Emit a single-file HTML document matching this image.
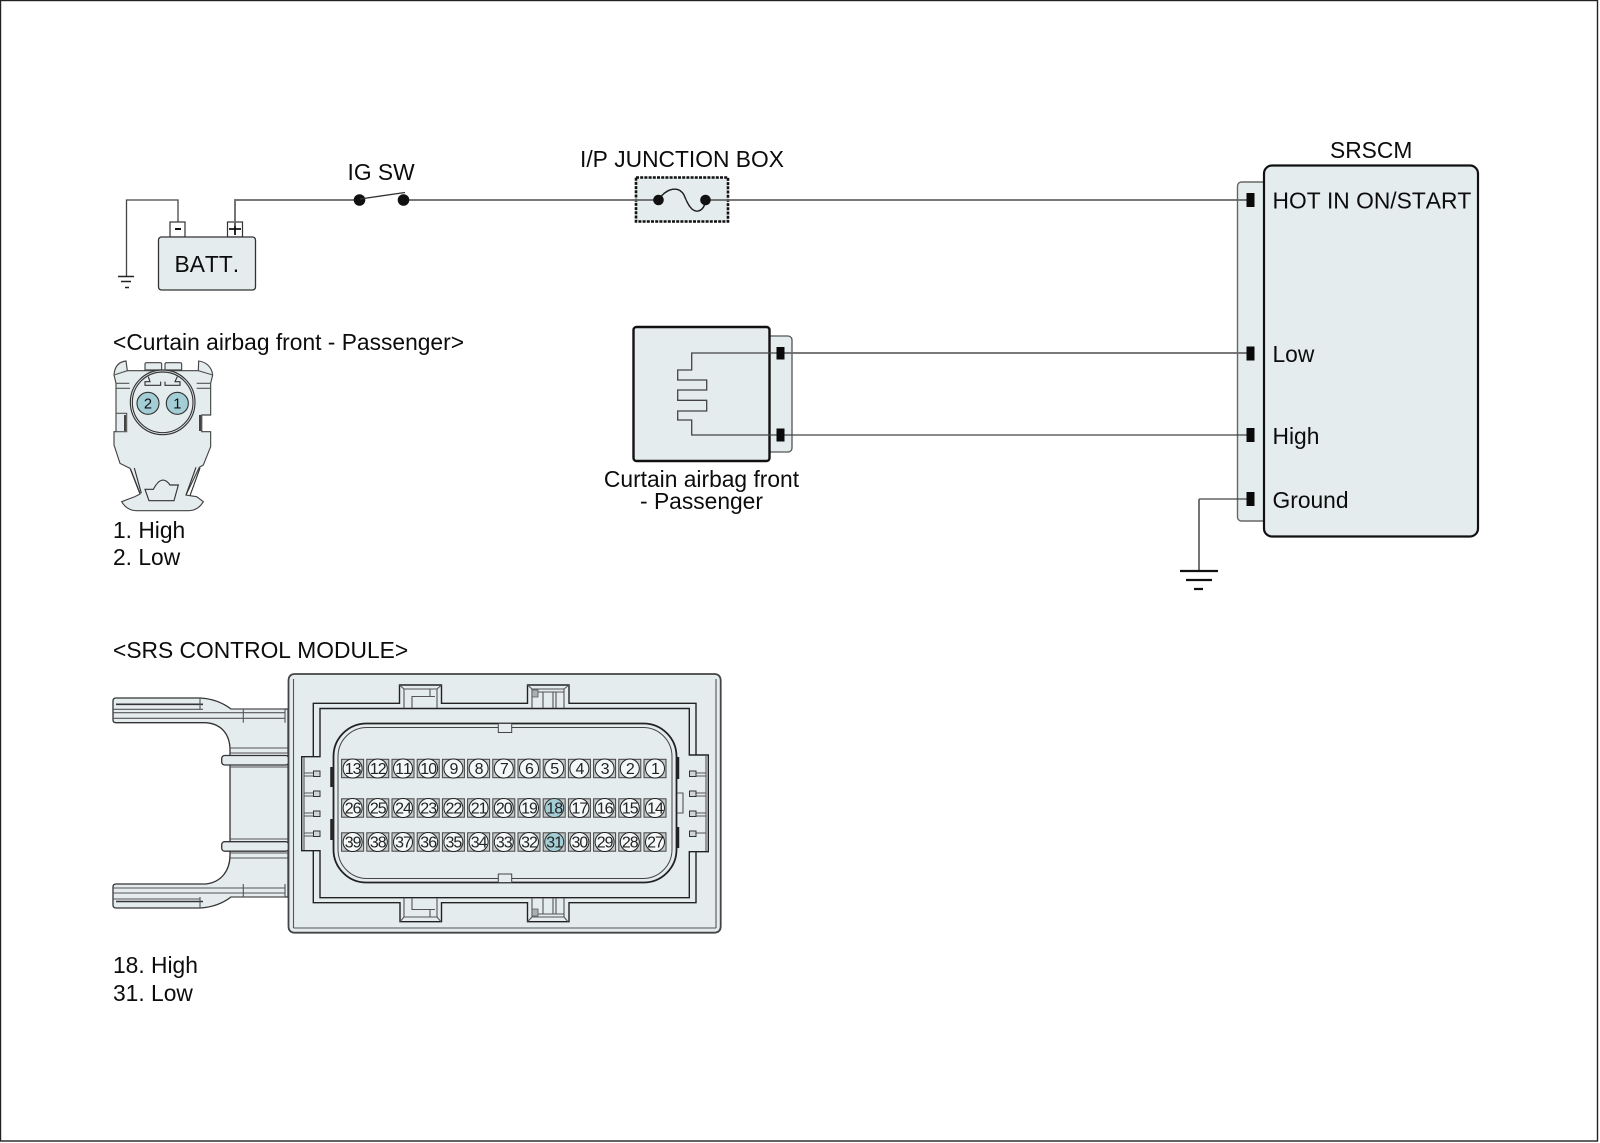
<!DOCTYPE html>
<html><head><meta charset="utf-8"><style>
html,body{margin:0;padding:0;background:#fff}
svg{display:block}
text{font-family:"Liberation Sans",sans-serif;font-size:22.8px;fill:#0c0c0c;font-kerning:none}
.f{fill:#e5ecee}
.k{fill:none;stroke:#222;stroke-width:1.4}
.g{fill:none;stroke:#555;stroke-width:1.1}
.w{fill:none;stroke:#666;stroke-width:1.8}
.t{fill:none;stroke:#444;stroke-width:1.3}
.c{fill:#c6cacb;stroke:#444;stroke-width:1}
.o{fill:#f5f8f8;stroke:#222;stroke-width:1}
.h{fill:#a3ced6;stroke:#333;stroke-width:1}
.n{font-size:16px;text-anchor:middle;letter-spacing:-1px;fill:#222;transform:translateY(.5px)}
</style></head><body>
<svg width="1600" height="1143" viewBox="0 0 1600 1143" xmlns="http://www.w3.org/2000/svg">
<rect x="0.5" y="0.5" width="1597" height="1140.5" fill="#fff" stroke="#222" stroke-width="1.4"/>

<!-- Battery -->
<path class="t" d="M178 222V200H126.5V276"/>
<path class="k" d="M118 276.5H134M121 281.5H131M125 287.5H129"/>
<rect x="170" y="222" width="15" height="15" fill="#fff" stroke="#333" stroke-width="1.2"/>
<rect x="227.5" y="222" width="15" height="15" fill="#fff" stroke="#333" stroke-width="1.2"/>
<path d="M175 229H181" stroke="#111" stroke-width="2"/>
<path d="M229 229H241M235 223V235" stroke="#111" stroke-width="1.8"/>
<rect x="158.5" y="237" width="97" height="53" rx="3" class="f" stroke="#333" stroke-width="1.3"/>
<text x="174.5" y="272">BATT.</text>

<!-- Switch -->
<text x="347.5" y="180">IG SW</text>

<!-- Fuse -->
<text x="580" y="167">I/P JUNCTION BOX</text>
<rect x="636" y="177.5" width="92" height="44" class="f" stroke="#111" stroke-width="2.6" stroke-dasharray="3 1.2"/>

<!-- Curtain airbag module -->
<rect x="760" y="336" width="32" height="116" rx="4" class="f" stroke="#555" stroke-width="1.3"/>
<rect x="633.5" y="327" width="136" height="134" rx="3" class="f" stroke="#111" stroke-width="2.4"/>
<path class="t" d="M776 353H691.7V370H677.7V380H706.7V390H677.7V400.3H706.7V411H677.7V420H691.7V435H776"/>
<text x="701.5" y="487" text-anchor="middle">Curtain airbag front</text>
<text x="701.5" y="509" text-anchor="middle">- Passenger</text>

<!-- SRSCM -->
<text x="1330" y="158">SRSCM</text>
<rect x="1237.5" y="182" width="40" height="339" rx="4" class="f" stroke="#666" stroke-width="1.4"/>
<rect x="1264" y="165.5" width="214" height="371" rx="8" class="f" stroke="#111" stroke-width="2.2"/>
<text x="1272.5" y="208.5">HOT IN ON/START</text>
<text x="1272.5" y="362">Low</text>
<text x="1272.5" y="444">High</text>
<text x="1272.5" y="508">Ground</text>

<!-- Wires -->
<path class="w" d="M235 226V200H360M404 200H1248"/>
<circle cx="359.5" cy="200" r="5.8" fill="#111"/>
<circle cx="403.5" cy="200" r="5.8" fill="#111"/>
<path d="M360 199L405 192.5" stroke="#333" stroke-width="1.3"/>
<path d="M658.5 200C664 190 678 184 684 195C688 205 692 212 698 211C703 210 705 205 705.5 200" fill="none" stroke="#222" stroke-width="1.3"/>
<rect x="659" y="199" width="46" height="2" fill="#e5ecee"/>
<path d="M658.5 200C664 190 678 184 684 195C688 205 692 212 698 211C703 210 705 205 705.5 200" fill="none" stroke="#222" stroke-width="1.3"/>
<circle cx="658.5" cy="200" r="5.3" fill="#111"/>
<circle cx="705.5" cy="200" r="5.3" fill="#111"/>
<path class="w" d="M776 353H1248"/>
<path class="t" d="M776 435H1248"/>
<path class="t" d="M1248 499H1199"/>
<path class="w" d="M1199 499V571"/>
<path d="M1180 571H1218M1186 580H1212M1194 589H1203" stroke="#111" stroke-width="2.2"/>
<rect x="776.5" y="347" width="8" height="12.5" fill="#0a0a0a"/>
<rect x="776.5" y="428.5" width="8" height="13" fill="#0a0a0a"/>
<rect x="1246.5" y="193" width="8" height="14" fill="#0a0a0a"/>
<rect x="1246.5" y="346.5" width="8" height="14" fill="#0a0a0a"/>
<rect x="1246.5" y="428" width="8" height="14" fill="#0a0a0a"/>
<rect x="1246.5" y="492" width="8" height="14" fill="#0a0a0a"/>

<!-- Left labels -->
<text x="113" y="350">&lt;Curtain airbag front - Passenger&gt;</text>
<text x="113" y="538">1. High</text>
<text x="113" y="565">2. Low</text>
<text x="113" y="658">&lt;SRS CONTROL MODULE&gt;</text>
<text x="113" y="973">18. High</text>
<text x="113" y="1001">31. Low</text>

<!-- Curtain connector -->
<g transform="translate(100 330) scale(.33333)">
<path class="f" stroke="#444" stroke-width="3.4" d="M42 135C44 108 58 95 78 93L82 122H295L296 93C318 96 335 110 338 135L332 160V255H305V305H332V350L310 405L298 412L258 495L290 500L310 515C300 532 285 542 265 542H110C90 542 75 532 65 515L105 500L120 492L90 415L60 400L42 345V305H48V255H48V160L42 135Z"/>
<path fill="none" stroke="#555" stroke-width="3.4" d="M82 122L42 135M295 122L338 135M48 160H88M48 175H90M48 250H80V305H48M332 160H290M332 175H290M305 255V305"/>
<path stroke="#444" fill="none" stroke-width="6" d="M75 255V303M300 255V303"/>
<path class="f" stroke="#444" stroke-width="3.4" d="M135 120V102Q135 98 140 98H180Q185 98 185 102V120ZM195 120V102Q195 98 200 98H240Q245 98 245 102V120Z"/>
<circle cx="188" cy="217" r="97" class="f" stroke="#333" stroke-width="3.4"/>
<circle cx="188" cy="217" r="91" class="f" stroke="#333" stroke-width="3.4"/>
<path fill="none" stroke="#333" stroke-width="3.4" d="M145 140L150 155H135V166H182V155M232 140L225 155H240V166H195V155"/>
<circle cx="144" cy="220" r="33" fill="#a3ced6" stroke="#333" stroke-width="3.4"/>
<circle cx="232" cy="220" r="33" fill="#a3ced6" stroke="#333" stroke-width="3.4"/>
<text x="144" y="236" text-anchor="middle" style="font-size:44px">2</text>
<text x="232" y="236" text-anchor="middle" style="font-size:44px">1</text>
<path fill="none" stroke="#333" stroke-width="3.4" d="M135 478H160Q185 430 210 465H235L222 512H147ZM92 418L120 490M103 414L124 490M288 412L258 495M300 414L270 497"/>
</g>

<!-- SRS control module bracket -->
<path class="f" stroke="#333" stroke-width="1.3" d="M116 698H200Q218 699 231 709H288V897H231Q218 907 200 908H116Q113 908 113 905V887Q113 884 116 884H206C222 882 230 870 230 855V750C230 735 222 724 206 722.7H116Q113 722.7 113 720V701Q113 698 116 698Z"/>
<path fill="none" stroke="#333" stroke-width="1.6" d="M116 704.3H203M116 901.5H203"/>
<path class="g" d="M113 709.3H203M113 712.7H285M113 718.3H285M243.3 709V722.7M243.3 884V897M113 888H285M113 893H285M113 899H200M230 709H285M230 897H285M200 698V709M200 897V908M285 709V722.7M285 884V897"/>
<path class="g" d="M230 748H288M230 767H288M230 753H288M230 839H288M230 853H288M230 858H288"/>
<rect x="221.7" y="755.5" width="67" height="9.5" rx="3" class="f" stroke="#333" stroke-width="1.3"/>
<rect x="221.7" y="841.7" width="67" height="9.5" rx="3" class="f" stroke="#333" stroke-width="1.3"/>

<!-- SRS control module body -->
<path class="f" stroke="#444" stroke-width="1.8" d="M295 674H714Q720.7 674 720.7 681V926Q720.7 932.7 714 932.7H295Q288.5 932.7 288.5 926V681Q288.5 674 295 674Z"/>
<path class="g" d="M293.5 679V928M716 679V928M293.5 928H716"/>
<path class="k" d="M313.3 756.7V703.3H399.5V685H441.5V703.3H527.5V685H569V703.3H696V755M696 851.7V902.7H569V921.7H527.5V902.7H441.5V921.7H400V902.7H313.3V850.7"/>
<path class="k" d="M320 756.7V708.5H689.3V755H708.3V851.7H689.3V897.7H320V850.7H301.7V756.7Z"/>
<path class="g" d="M304 757V850M706 755V851"/>
<path class="g" d="M404 708V689H437V708M399.5 685L404 689M441.5 685L437 689M412 708V696.5H435M430 689V696.5"/>
<path class="g" d="M532 708V689H564V708M527.5 685L532 689M569 685L564 689M538 692H564M543 692V708M553 692V708M556 692V708"/>
<path d="M532 690H538V697H532Z" fill="#aab0b1" stroke="#555" stroke-width=".8"/>
<path class="g" d="M404 898V917H437V898M400 921.7L404 917M441 921.7L437 917M412 898V909.5H435M430 917V909.5"/>
<path class="g" d="M532 898V917H564V898M527.5 921.7L532 917M568 921.7L564 917M538 914H564M543 898V914M553 898V914M556 898V914"/>
<path d="M532 909H538V916H532Z" fill="#aab0b1" stroke="#555" stroke-width=".8"/>
<path class="g" d="M304 773H313M304 776H313M304 793H313M304 796H313M304 813H313M304 816H313M304 833H313M304 836H313M696 773H706M696 776H706M696 793H706M696 796H706M696 813H706M696 816H706M696 833H706"/>
<path d="M313.5 771H320V776.5H313.5ZM313.5 791H320V796.5H313.5ZM313.5 811H320V816.5H313.5ZM313.5 831H320V836.5H313.5ZM689.5 771H696V776.5H689.5ZM689.5 791H696V796.5H689.5ZM689.5 811H696V816.5H689.5ZM689.5 831H696V836.5H689.5Z" fill="#cfd5d6" stroke="#333"/>
<rect x="333.5" y="723.5" width="343" height="159" rx="33" fill="#e5ecee" stroke="#222" stroke-width="1.8"/>
<rect x="338" y="727.5" width="334" height="151" rx="29" fill="#e5ecee" stroke="#444" stroke-width="1"/>
<path d="M331.5 767V787M331.5 819V840M678 757V779M678 827V848" stroke="#222" stroke-width="2.5"/>
<path class="g" d="M677 793H683V813H677"/>
<rect x="498.3" y="723.5" width="13.4" height="9" class="f" stroke="#444"/>
<rect x="498.3" y="874" width="13.4" height="8.5" class="f" stroke="#444"/>

<!-- Pins -->
<g id="pins">
<rect class="c" x="341.6" y="759.3" width="22" height="18.4"/><circle class="o" cx="352.6" cy="768.5" r="9.5"/><text class="n" x="352.6" y="773.7">13</text>
<rect class="c" x="366.8" y="759.3" width="22" height="18.4"/><circle class="o" cx="377.8" cy="768.5" r="9.5"/><text class="n" x="377.8" y="773.7">12</text>
<rect class="c" x="392" y="759.3" width="22" height="18.4"/><circle class="o" cx="403" cy="768.5" r="9.5"/><text class="n" x="403" y="773.7">11</text>
<rect class="c" x="417.2" y="759.3" width="22" height="18.4"/><circle class="o" cx="428.2" cy="768.5" r="9.5"/><text class="n" x="428.2" y="773.7">10</text>
<rect class="c" x="442.4" y="759.3" width="22" height="18.4"/><circle class="o" cx="453.4" cy="768.5" r="9.5"/><text class="n" x="453.4" y="773.7">9</text>
<rect class="c" x="467.6" y="759.3" width="22" height="18.4"/><circle class="o" cx="478.6" cy="768.5" r="9.5"/><text class="n" x="478.6" y="773.7">8</text>
<rect class="c" x="492.8" y="759.3" width="22" height="18.4"/><circle class="o" cx="503.8" cy="768.5" r="9.5"/><text class="n" x="503.8" y="773.7">7</text>
<rect class="c" x="518" y="759.3" width="22" height="18.4"/><circle class="o" cx="529" cy="768.5" r="9.5"/><text class="n" x="529" y="773.7">6</text>
<rect class="c" x="543.2" y="759.3" width="22" height="18.4"/><circle class="o" cx="554.2" cy="768.5" r="9.5"/><text class="n" x="554.2" y="773.7">5</text>
<rect class="c" x="568.4" y="759.3" width="22" height="18.4"/><circle class="o" cx="579.4" cy="768.5" r="9.5"/><text class="n" x="579.4" y="773.7">4</text>
<rect class="c" x="593.6" y="759.3" width="22" height="18.4"/><circle class="o" cx="604.6" cy="768.5" r="9.5"/><text class="n" x="604.6" y="773.7">3</text>
<rect class="c" x="618.8" y="759.3" width="22" height="18.4"/><circle class="o" cx="629.8" cy="768.5" r="9.5"/><text class="n" x="629.8" y="773.7">2</text>
<rect class="c" x="644" y="759.3" width="22" height="18.4"/><circle class="o" cx="655" cy="768.5" r="9.5"/><text class="n" x="655" y="773.7">1</text>

<rect class="c" x="341.6" y="798.8" width="22" height="18.4"/><circle class="o" cx="352.6" cy="808" r="9.5"/><text class="n" x="352.6" y="813.2">26</text>
<rect class="c" x="366.8" y="798.8" width="22" height="18.4"/><circle class="o" cx="377.8" cy="808" r="9.5"/><text class="n" x="377.8" y="813.2">25</text>
<rect class="c" x="392" y="798.8" width="22" height="18.4"/><circle class="o" cx="403" cy="808" r="9.5"/><text class="n" x="403" y="813.2">24</text>
<rect class="c" x="417.2" y="798.8" width="22" height="18.4"/><circle class="o" cx="428.2" cy="808" r="9.5"/><text class="n" x="428.2" y="813.2">23</text>
<rect class="c" x="442.4" y="798.8" width="22" height="18.4"/><circle class="o" cx="453.4" cy="808" r="9.5"/><text class="n" x="453.4" y="813.2">22</text>
<rect class="c" x="467.6" y="798.8" width="22" height="18.4"/><circle class="o" cx="478.6" cy="808" r="9.5"/><text class="n" x="478.6" y="813.2">21</text>
<rect class="c" x="492.8" y="798.8" width="22" height="18.4"/><circle class="o" cx="503.8" cy="808" r="9.5"/><text class="n" x="503.8" y="813.2">20</text>
<rect class="c" x="518" y="798.8" width="22" height="18.4"/><circle class="o" cx="529" cy="808" r="9.5"/><text class="n" x="529" y="813.2">19</text>
<rect class="c" x="543.2" y="798.8" width="22" height="18.4"/><circle class="h" cx="554.2" cy="808" r="9.5"/><text class="n" x="554.2" y="813.2">18</text>
<rect class="c" x="568.4" y="798.8" width="22" height="18.4"/><circle class="o" cx="579.4" cy="808" r="9.5"/><text class="n" x="579.4" y="813.2">17</text>
<rect class="c" x="593.6" y="798.8" width="22" height="18.4"/><circle class="o" cx="604.6" cy="808" r="9.5"/><text class="n" x="604.6" y="813.2">16</text>
<rect class="c" x="618.8" y="798.8" width="22" height="18.4"/><circle class="o" cx="629.8" cy="808" r="9.5"/><text class="n" x="629.8" y="813.2">15</text>
<rect class="c" x="644" y="798.8" width="22" height="18.4"/><circle class="o" cx="655" cy="808" r="9.5"/><text class="n" x="655" y="813.2">14</text>

<rect class="c" x="341.6" y="832.8" width="22" height="18.4"/><circle class="o" cx="352.6" cy="842" r="9.5"/><text class="n" x="352.6" y="847.2">39</text>
<rect class="c" x="366.8" y="832.8" width="22" height="18.4"/><circle class="o" cx="377.8" cy="842" r="9.5"/><text class="n" x="377.8" y="847.2">38</text>
<rect class="c" x="392" y="832.8" width="22" height="18.4"/><circle class="o" cx="403" cy="842" r="9.5"/><text class="n" x="403" y="847.2">37</text>
<rect class="c" x="417.2" y="832.8" width="22" height="18.4"/><circle class="o" cx="428.2" cy="842" r="9.5"/><text class="n" x="428.2" y="847.2">36</text>
<rect class="c" x="442.4" y="832.8" width="22" height="18.4"/><circle class="o" cx="453.4" cy="842" r="9.5"/><text class="n" x="453.4" y="847.2">35</text>
<rect class="c" x="467.6" y="832.8" width="22" height="18.4"/><circle class="o" cx="478.6" cy="842" r="9.5"/><text class="n" x="478.6" y="847.2">34</text>
<rect class="c" x="492.8" y="832.8" width="22" height="18.4"/><circle class="o" cx="503.8" cy="842" r="9.5"/><text class="n" x="503.8" y="847.2">33</text>
<rect class="c" x="518" y="832.8" width="22" height="18.4"/><circle class="o" cx="529" cy="842" r="9.5"/><text class="n" x="529" y="847.2">32</text>
<rect class="c" x="543.2" y="832.8" width="22" height="18.4"/><circle class="h" cx="554.2" cy="842" r="9.5"/><text class="n" x="554.2" y="847.2">31</text>
<rect class="c" x="568.4" y="832.8" width="22" height="18.4"/><circle class="o" cx="579.4" cy="842" r="9.5"/><text class="n" x="579.4" y="847.2">30</text>
<rect class="c" x="593.6" y="832.8" width="22" height="18.4"/><circle class="o" cx="604.6" cy="842" r="9.5"/><text class="n" x="604.6" y="847.2">29</text>
<rect class="c" x="618.8" y="832.8" width="22" height="18.4"/><circle class="o" cx="629.8" cy="842" r="9.5"/><text class="n" x="629.8" y="847.2">28</text>
<rect class="c" x="644" y="832.8" width="22" height="18.4"/><circle class="o" cx="655" cy="842" r="9.5"/><text class="n" x="655" y="847.2">27</text>
</g>
</svg>
</body></html>
